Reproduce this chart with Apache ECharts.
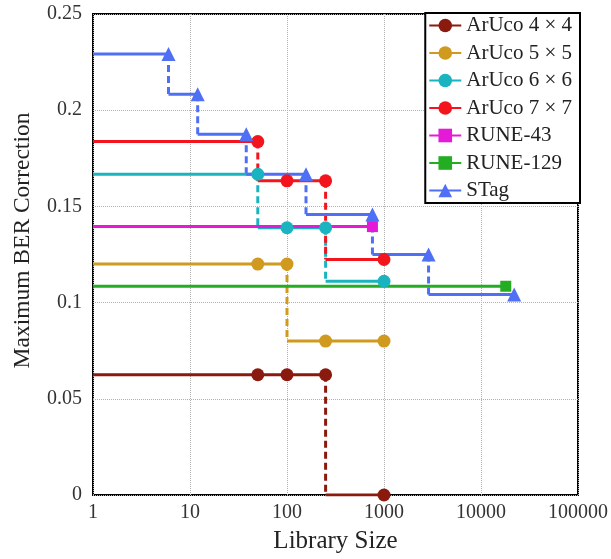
<!DOCTYPE html>
<html>
<head>
<meta charset="utf-8">
<script src="https://cdn.jsdelivr.net/npm/echarts@6/dist/echarts.min.js"></script>
<style>
  html, body { margin: 0; padding: 0; background: #fff; }
  #chart { width: 611px; height: 559px; }
</style>
</head>
<body>
<div id="chart"></div>
<script>
const xTicks = [1, 10, 100, 1000, 10000, 100000];
const yTicks = [0, 0.05, 0.1, 0.15, 0.2, 0.25];

const aruco4Size = [50, 100, 250, 1000];
const aruco4Ber = [0.0625, 0.0625, 0.0625, 0];
const aruco5Size = [50, 100, 250, 1000];
const aruco5Ber = [0.12, 0.12, 0.08, 0.08];
const aruco6Size = [50, 100, 250, 1000];
const aruco6Ber = [0.1667, 0.1389, 0.1389, 0.1111];
const aruco7Size = [50, 100, 250, 1000];
const aruco7Ber = [0.1837, 0.1633, 0.1633, 0.1224];
const rune43Size = [760];
const rune43Ber = [0.1395];
const rune129Size = [18000];
const rune129Ber = [0.1085];
const stagSize = [6, 12, 38, 157, 760, 2880, 22000];
const stagBer = [0.2292, 0.2083, 0.1875, 0.1667, 0.1458, 0.125, 0.1042];

const chart = echarts.init(document.getElementById("chart"));
const font = "Liberation Serif";

const defs = [
    { name: "ArUco 4 × 4", color: "#8b1a0e", symbol: "circle", size: 13, xs: aruco4Size, ys: aruco4Ber },
    { name: "ArUco 5 × 5", color: "#d09a1e", symbol: "circle", size: 13, xs: aruco5Size, ys: aruco5Ber },
    { name: "ArUco 6 × 6", color: "#19b4c0", symbol: "circle", size: 13, xs: aruco6Size, ys: aruco6Ber },
    { name: "ArUco 7 × 7", color: "#f3141e", symbol: "circle", size: 13, xs: aruco7Size, ys: aruco7Ber },
    { name: "RUNE-43", color: "#e41ad6", symbol: "rect", size: 11, xs: rune43Size, ys: rune43Ber },
    { name: "RUNE-129", color: "#22ad22", symbol: "rect", size: 11, xs: rune129Size, ys: rune129Ber },
    { name: "STag", color: "#4f6ff5", symbol: "triangle", size: 14, xs: stagSize, ys: stagBer }
];

// solid horizontal runs (with markers) and dashed vertical drops
function solidData(xs, ys) {
    const out = [{ value: [1, ys[0]], symbol: "none" }, [xs[0], ys[0]]];
    for (let i = 1; i < xs.length; i++) {
        if (ys[i] !== ys[i - 1]) {
            out.push(["-", "-"]);
            out.push({ value: [xs[i - 1], ys[i]], symbol: "none" });
        }
        out.push([xs[i], ys[i]]);
    }
    return out;
}

function dropData(xs, ys) {
    const out = [];
    for (let i = 1; i < xs.length; i++) {
        if (ys[i] !== ys[i - 1]) {
            out.push([xs[i - 1], ys[i - 1]], [xs[i - 1], ys[i]], ["-", "-"]);
        }
    }
    return out;
}

const dropSeries = defs.map(d => ({
    name: d.name + " drop",
    type: "line",
    data: dropData(d.xs, d.ys),
    symbol: "none",
    lineStyle: { color: d.color, width: 3, type: [7, 4] },
    silent: true
}));

const stepSeries = defs.map(d => ({
    name: d.name,
    type: "line",
    data: solidData(d.xs, d.ys),
    symbol: d.symbol,
    symbolSize: d.size,
    showAllSymbol: true,
    itemStyle: { color: d.color },
    lineStyle: { color: d.color, width: 3 }
}));

chart.setOption({
    animation: false,
    grid: {
        left: 93, right: 31, top: 14, bottom: 62,
        show: true, borderColor: "#000", borderWidth: 2
    },
    legend: {
        data: defs.map(d => d.name),
        orient: "vertical",
        right: 31, top: 13,
        itemWidth: 32, itemHeight: 17, itemGap: 6.5,
        padding: [2, 8, 2, 3],
        backgroundColor: "#fff",
        borderColor: "#000", borderWidth: 2,
        textStyle: { fontFamily: font, fontSize: 21, color: "#222" }
    },
    xAxis: {
        type: "log",
        logBase: 10,
        min: xTicks[0], max: xTicks[xTicks.length - 1],
        name: "Library Size",
        nameLocation: "middle",
        nameGap: 34,
        nameTextStyle: { fontFamily: font, fontSize: 25, color: "#222" },
        axisLine: { show: false },
        axisTick: { show: false },
        axisLabel: {
            fontFamily: font, fontSize: 20, color: "#333", margin: 8,
            formatter: v => String(Math.round(v))
        },
        splitLine: { show: true, lineStyle: { color: "#b0b0b0", type: "dotted", width: 1 } }
    },
    yAxis: {
        type: "value",
        min: yTicks[0], max: yTicks[yTicks.length - 1], interval: 0.05,
        name: "Maximum BER Correction",
        nameLocation: "middle",
        nameGap: 58,
        nameTextStyle: { fontFamily: font, fontSize: 23.5, color: "#222", padding: [0, 0, 0, 28] },
        axisLine: { show: false },
        axisTick: { show: false },
        axisLabel: {
            fontFamily: font, fontSize: 20, color: "#333", margin: 11,
            formatter: v => String(parseFloat(v.toFixed(2)))
        },
        splitLine: { show: true, lineStyle: { color: "#b0b0b0", type: "dotted", width: 1 } }
    },
    series: dropSeries.concat(stepSeries)
});
</script>
</body>
</html>
